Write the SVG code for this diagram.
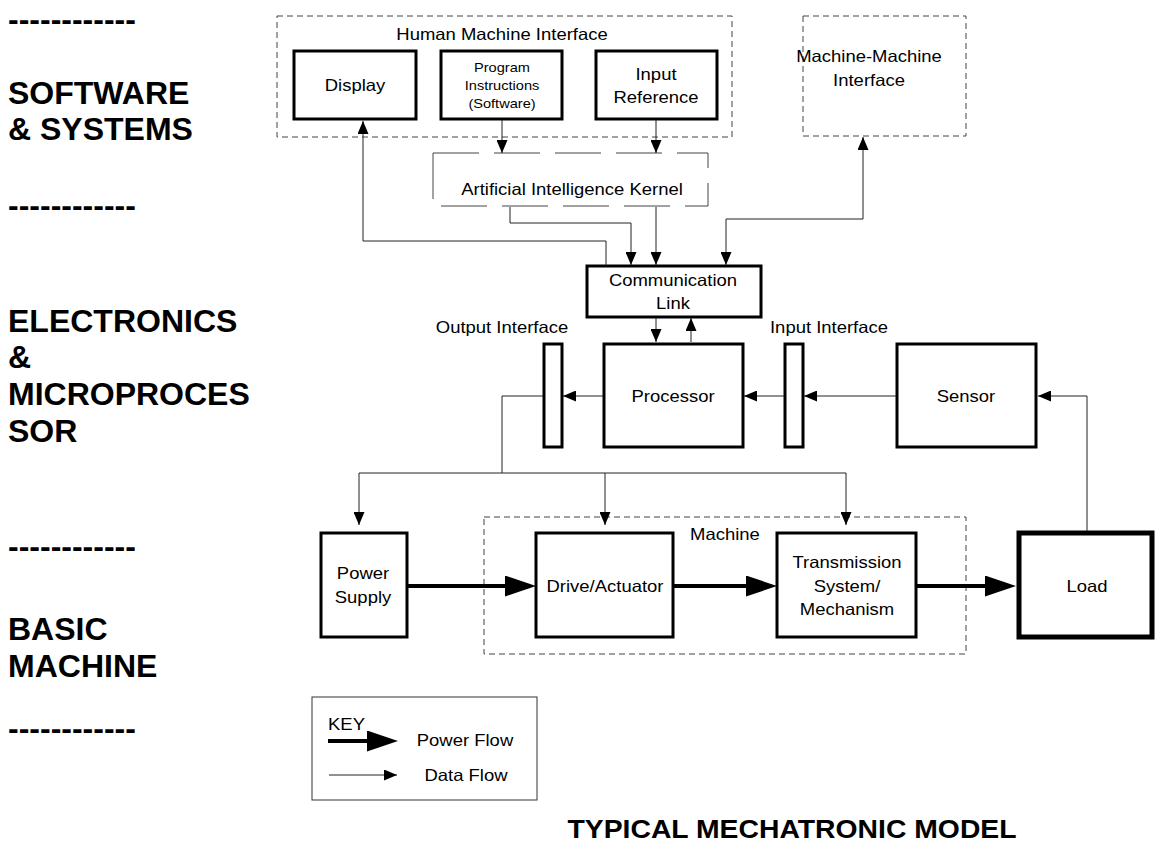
<svg xmlns="http://www.w3.org/2000/svg" width="1156" height="854" viewBox="0 0 1156 854">
<defs>
<style>
.box{fill:#fff;stroke:#000;stroke-width:3}
.load{fill:#fff;stroke:#000;stroke-width:5}
.dash{fill:none;stroke:#444;stroke-width:1;stroke-dasharray:6 4}
.ai{fill:none;stroke:#444;stroke-width:1;stroke-dasharray:46 15}
.data{fill:none;stroke:#222;stroke-width:1}
.pow{fill:none;stroke:#000;stroke-width:4}
.t{font-family:"Liberation Sans",Arial,sans-serif;font-size:16.5px;fill:#000;text-anchor:middle}
.tl{font-family:"Liberation Sans",Arial,sans-serif;font-size:16.5px;fill:#000;text-anchor:start}
.s{font-family:"Liberation Sans",Arial,sans-serif;font-size:13.5px;fill:#000;text-anchor:middle}
.b{font-family:"Liberation Sans",Arial,sans-serif;font-size:32px;font-weight:bold;fill:#000}
.title{font-family:"Liberation Sans",Arial,sans-serif;font-size:26px;font-weight:bold;fill:#000;text-anchor:middle}
</style>
<marker id="da" viewBox="0 0 13 11" refX="13" refY="5.5" markerWidth="13" markerHeight="11" markerUnits="userSpaceOnUse" orient="auto-start-reverse"><path d="M0,0L13,5.5L0,11z" fill="#000"/></marker>
<marker id="pa" viewBox="0 0 31 21" refX="0" refY="10.5" markerWidth="31" markerHeight="21" markerUnits="userSpaceOnUse" orient="auto"><path d="M0,0L31,10.5L0,21z" fill="#000"/></marker>
</defs>
<rect width="1156" height="854" fill="#fff"/>

<g id="band-labels">
<text class="b" x="8" y="30">------------</text>
<text class="b" x="8" y="104">SOFTWARE</text>
<text class="b" x="8" y="140">&amp; SYSTEMS</text>
<text class="b" x="8" y="216">------------</text>
<text class="b" x="8" y="332">ELECTRONICS</text>
<text class="b" x="8" y="368">&amp;</text>
<text class="b" x="8" y="405">MICROPROCES</text>
<text class="b" x="8" y="442">SOR</text>
<text class="b" x="8" y="557">------------</text>
<text class="b" x="8" y="640">BASIC</text>
<text class="b" x="8" y="677">MACHINE</text>
<text class="b" x="8" y="739">------------</text>
</g>

<g id="hmi">
<rect class="dash" x="277" y="16" width="455" height="121"/>
<text class="t" transform="translate(502,40) scale(1.12,1)">Human Machine Interface</text>
</g>
<g id="display">
<rect class="box" x="294" y="51" width="122" height="68"/>
<text class="t" transform="translate(355,91) scale(1.12,1)">Display</text>
</g>
<g id="program">
<rect class="box" x="441" y="51" width="121" height="68"/>
<text class="s" transform="translate(502,72) scale(1.08,1)">Program</text>
<text class="s" transform="translate(502,90) scale(1.08,1)">Instructions</text>
<text class="s" transform="translate(502,108) scale(1.08,1)">(Software)</text>
</g>
<g id="input-reference">
<rect class="box" x="596" y="51" width="121" height="68"/>
<text class="t" transform="translate(656,80) scale(1.12,1)">Input</text>
<text class="t" transform="translate(656,103) scale(1.12,1)">Reference</text>
</g>
<g id="mmi">
<rect class="dash" x="803" y="16" width="163" height="120"/>
<text class="t" transform="translate(869,62) scale(1.12,1)">Machine-Machine</text>
<text class="t" transform="translate(869,86) scale(1.12,1)">Interface</text>
</g>
<g id="ai-kernel">
<rect class="ai" x="433" y="153" width="275" height="53"/>
<text class="t" transform="translate(572,195) scale(1.12,1)">Artificial Intelligence Kernel</text>
</g>
<g id="comm-link">
<rect class="box" x="587" y="266" width="174" height="51"/>
<text class="t" transform="translate(673,286) scale(1.12,1)">Communication</text>
<text class="t" transform="translate(673,309) scale(1.12,1)">Link</text>
</g>
<g id="output-interface">
<rect class="box" x="544" y="344" width="18" height="103"/>
<text class="t" transform="translate(502,333) scale(1.12,1)">Output Interface</text>
</g>
<g id="processor">
<rect class="box" x="604" y="344" width="139" height="103"/>
<text class="t" transform="translate(673,402) scale(1.12,1)">Processor</text>
</g>
<g id="input-interface">
<rect class="box" x="785" y="344" width="18" height="103"/>
<text class="t" transform="translate(829,333) scale(1.12,1)">Input Interface</text>
</g>
<g id="sensor">
<rect class="box" x="897" y="344" width="139" height="103"/>
<text class="t" transform="translate(966,402) scale(1.12,1)">Sensor</text>
</g>
<g id="machine">
<rect class="dash" x="484" y="517" width="482" height="137"/>
<text class="t" transform="translate(725,540) scale(1.12,1)">Machine</text>
</g>
<g id="power-supply">
<rect class="box" x="321" y="533" width="86" height="104"/>
<text class="t" transform="translate(363,579) scale(1.12,1)">Power</text>
<text class="t" transform="translate(363,603) scale(1.12,1)">Supply</text>
</g>
<g id="drive">
<rect class="box" x="536" y="533" width="137" height="104"/>
<text class="t" transform="translate(605,592) scale(1.12,1)">Drive/Actuator</text>
</g>
<g id="transmission">
<rect class="box" x="777" y="533" width="139" height="104"/>
<text class="t" transform="translate(847,568) scale(1.12,1)">Transmission</text>
<text class="t" transform="translate(847,592) scale(1.12,1)">System/</text>
<text class="t" transform="translate(847,615) scale(1.12,1)">Mechanism</text>
</g>
<g id="load">
<rect class="load" x="1019" y="533" width="133" height="104"/>
<text class="t" transform="translate(1087,592) scale(1.12,1)">Load</text>
</g>

<g id="connectors">
<path class="data" d="M606,266V241H363V121" marker-end="url(#da)"/>
<path class="data" d="M502,120V153" marker-end="url(#da)"/>
<path class="data" d="M656,120V153" marker-end="url(#da)"/>
<path class="data" d="M510,207V223H631V265" marker-end="url(#da)"/>
<path class="data" d="M656,207V265" marker-end="url(#da)"/>
<path class="data" d="M863,137V219H726V265" marker-start="url(#da)" marker-end="url(#da)"/>
<path class="data" d="M656,318V342" marker-end="url(#da)"/>
<path class="data" d="M691,342V318" marker-end="url(#da)"/>
<path class="data" d="M896,396H804" marker-end="url(#da)"/>
<path class="data" d="M784,396H744" marker-end="url(#da)"/>
<path class="data" d="M603,396H563" marker-end="url(#da)"/>
<path class="data" d="M543,396H502V473"/>
<path class="data" d="M502,473H359V525" marker-end="url(#da)"/>
<path class="data" d="M502,473H846V525" marker-end="url(#da)"/>
<path class="data" d="M605,473V525" marker-end="url(#da)"/>
<path class="data" d="M1087,531V396H1038" marker-end="url(#da)"/>
<path class="pow" d="M408,586H505" marker-end="url(#pa)"/>
<path class="pow" d="M674,586H746" marker-end="url(#pa)"/>
<path class="pow" d="M917,586H985" marker-end="url(#pa)"/>
</g>

<g id="key">
<rect x="312" y="697" width="225" height="103" fill="none" stroke="#333" stroke-width="1"/>
<text class="tl" transform="translate(328,730) scale(1.12,1)">KEY</text>
<path class="pow" d="M328,741H367" marker-end="url(#pa)"/>
<text class="t" transform="translate(465,746) scale(1.12,1)">Power Flow</text>
<path class="data" d="M329,775H397" marker-end="url(#da)"/>
<text class="t" transform="translate(466,781) scale(1.12,1)">Data Flow</text>
</g>

<g id="title">
<text class="title" transform="translate(792,838) scale(1.09,1)">TYPICAL MECHATRONIC MODEL</text>
</g>
</svg>
